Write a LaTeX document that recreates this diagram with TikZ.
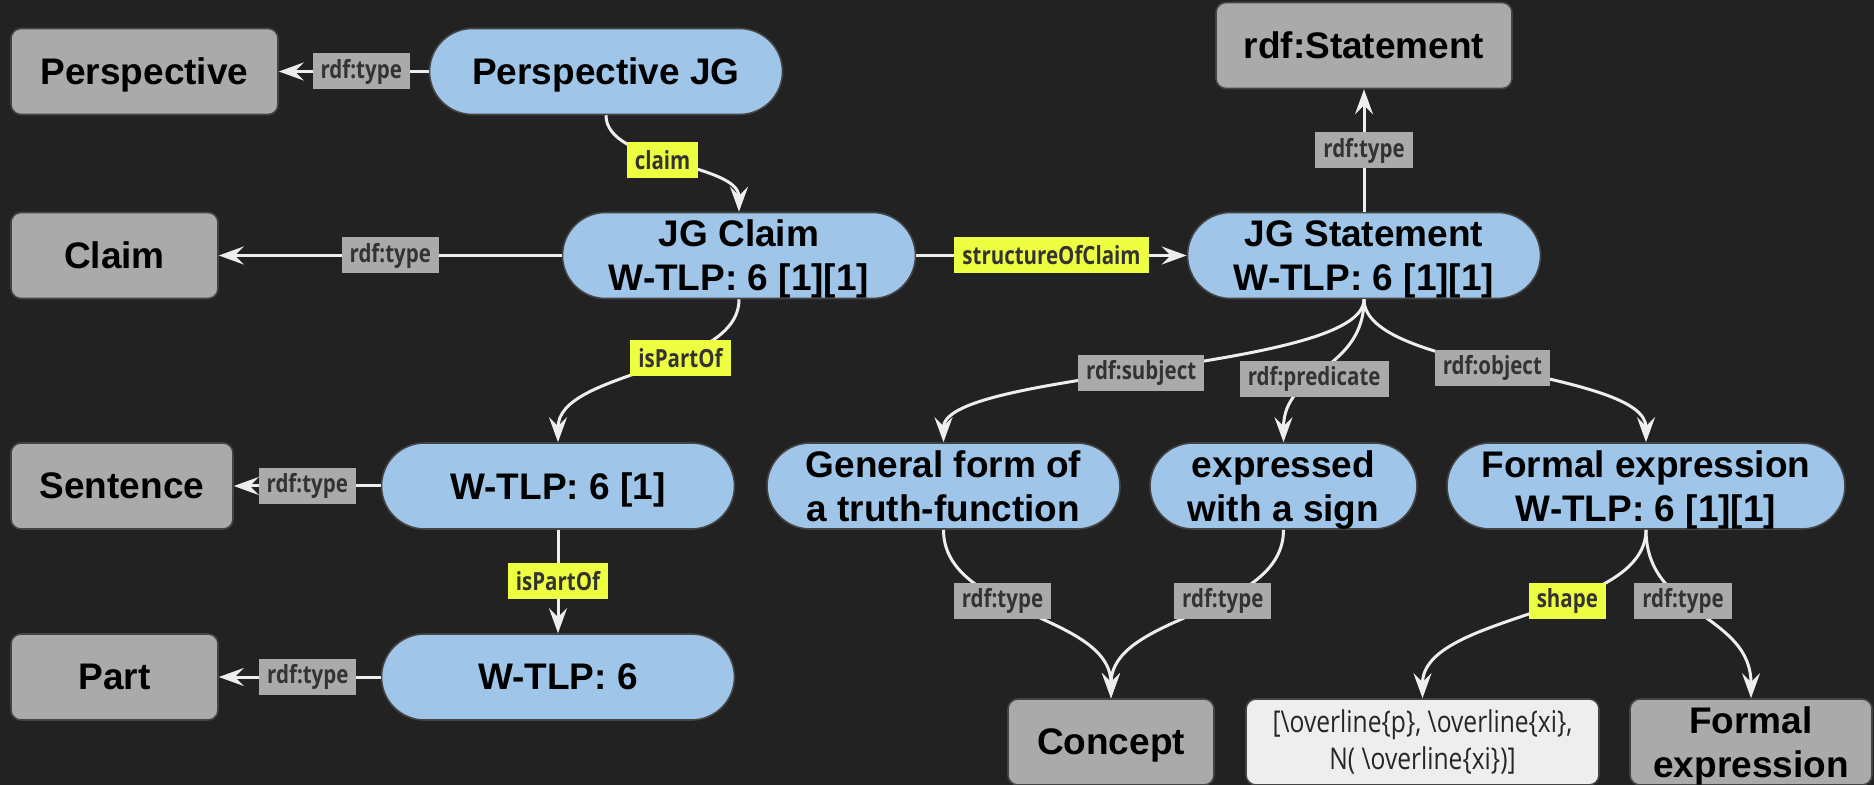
\documentclass[tikz,border=0pt]{standalone}
\usepackage{fontspec}
\setmainfont{Liberation Sans}
\newfontfamily\edgefont[FakeStretch=0.82]{Open Sans}
\usetikzlibrary{arrows.meta}
\definecolor{bg}{HTML}{222222}
\definecolor{jgblue}{HTML}{9FC5E8}
\definecolor{classgray}{HTML}{AAAAAA}
\definecolor{litbox}{HTML}{EEEEEE}
\definecolor{edgeline}{HTML}{EEEEEE}
\definecolor{hilite}{HTML}{EEFF41}
\definecolor{rim}{HTML}{444444}

\begin{document}
\begin{tikzpicture}[x=0.5pt,y=0.5pt,
	every node/.style={align=center,inner sep=0pt,minimum height=43pt,line width=0.8pt},
	jg/.style={draw=rim,fill=jgblue,rounded corners=21.5pt,minimum width=176.5pt,text depth=0pt,font=\bfseries\fontsize{18.5}{22}\selectfont},
	cls/.style={draw=rim,fill=classgray,rounded corners=5pt,text depth=0pt,font=\bfseries\fontsize{18.5}{22}\selectfont},
	lit/.style={draw=rim,fill=litbox,rounded corners=5pt,text=black!85,font=\edgefont\fontsize{15}{18.5}\selectfont},
	rel/.style={draw=edgeline,line width=1.5pt,-{Stealth[length=12.5pt,width=9pt,inset=4.5pt]}},
	tag/.style={fill=classgray,text=black!80,minimum height=18pt,inner xsep=4pt,font=\edgefont\bfseries\fontsize{12.5}{14}\selectfont,pos=#1},
	tag/.default=0.5,
	key/.style={tag=#1,fill=hilite},
	key/.default=0.5,
	vbend/.style={out=-90,in=90,distance=#1}]

	\useasboundingbox (0,0) rectangle (1874,-785);
	\clip (0,0) rectangle (1874,-785);
	\fill[bg] (0,0) rectangle (1874,-785);

	% classes on the left
	\node[cls,minimum width=133.5pt] (persp) at (144.5,-71.5) {Perspective};
	\node[cls,minimum width=103.5pt] (claimT) at (114.5,-255.5) {Claim};
	\node[cls,minimum width=111pt] (sentence) at (122,-486) {Sentence};
	\node[cls,minimum width=103.5pt] (part) at (114.5,-677) {Part};

	% individuals
	\node[jg] (perspJG) at (606,-71.5) {Perspective JG};
	\node[jg] (jgClaim) at (739,-255.5) {JG Claim\\W-TLP: 6 [1][1]};
	\node[jg] (jgStmt) at (1364,-255.5) {JG Statement\\W-TLP: 6 [1][1]};
	\node[jg] (wtlp61) at (558,-486) {W-TLP: 6 [1]};
	\node[jg] (wtlp6) at (558,-677) {W-TLP: 6};
	\node[jg] (general) at (943.5,-486) {General form of\\a truth-function};
	\node[jg,minimum width=133.5pt] (expressed) at (1283.5,-486) {expressed\\with a sign};
	\node[jg,minimum width=199pt] (formal) at (1646,-486) {Formal expression\\W-TLP: 6 [1][1]};

	\node[cls,minimum width=148pt] (stmtT) at (1364,-45.5) {rdf:Statement};
	\node[cls,minimum width=103pt] (concept) at (1111,-742) {Concept};
	\node[lit,minimum width=176.5pt] (shapeVal) at (1422.5,-742) {[\textbackslash overline\{p\}, \textbackslash overline\{xi\},\\N( \textbackslash overline\{xi\})]};
	\node[cls,minimum width=121pt] (formalT) at (1751,-742) {Formal\\expression};

	% relations
	\draw[rel] (perspJG.west) -- node[tag=0.45]{rdf:type} (persp.east);
	\draw[rel] (perspJG.south) to[vbend=24.5pt] node[key=0.45]{claim} (jgClaim.north);
	\draw[rel] (jgClaim.west) -- node[tag]{rdf:type} (claimT.east);
	\draw[rel] (jgClaim.east) -- node[key]{structureOfClaim} (jgStmt.west);
	\draw[rel] (jgStmt.north) -- node[tag]{rdf:type} (stmtT.south);
	\draw[rel] (jgClaim.south) to[vbend=36pt] node[key=0.38]{isPartOf} (wtlp61.north);
	\draw[rel] (wtlp61.west) -- node[tag]{rdf:type} (sentence.east);
	\draw[rel] (wtlp61.south) -- node[key]{isPartOf} (wtlp6.north);
	\draw[rel] (wtlp6.west) -- node[tag=0.45]{rdf:type} (part.east);
	\draw[rel] (jgStmt.south) to[vbend=36pt] node[tag=0.52]{rdf:subject} (general.north);
	\draw[rel] (jgStmt.south) to[vbend=36pt] node[tag=0.58]{rdf:predicate} (expressed.north);
	\draw[rel] (jgStmt.south) to[vbend=36pt] node[tag=0.47]{rdf:object} (formal.north);
	\draw[rel] (general.south) to[vbend=42.5pt] node[tag=0.4]{rdf:type} (concept.north);
	\draw[rel] (expressed.south) to[vbend=42.5pt] node[tag=0.4]{rdf:type} (concept.north);
	\draw[rel] (formal.south) to[vbend=42.5pt] node[key=0.4]{shape} (shapeVal.north);
	\draw[rel] (formal.south) to[vbend=42.5pt] node[tag=0.4]{rdf:type} (formalT.north);
\end{tikzpicture}
\end{document}
